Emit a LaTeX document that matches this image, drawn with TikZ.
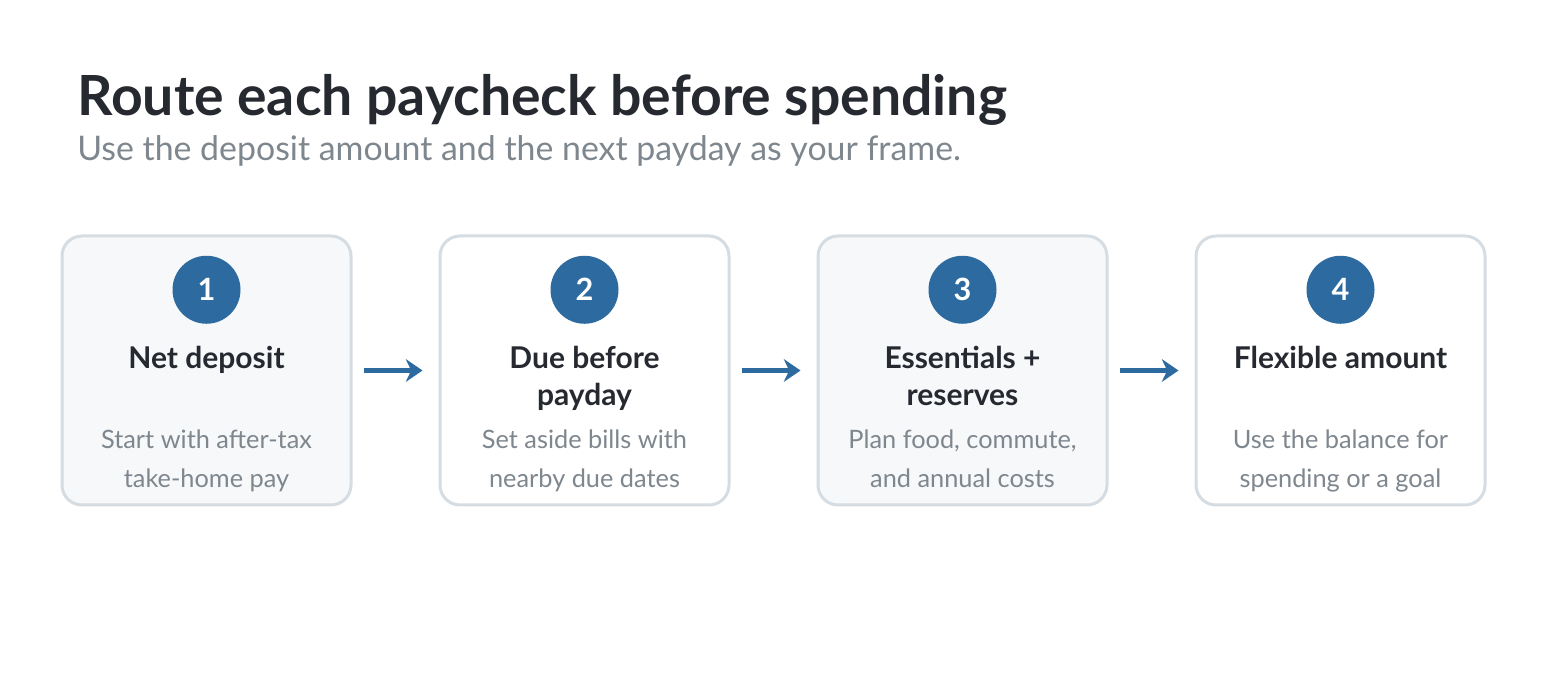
\documentclass[tikz,border=0pt]{standalone}
\usepackage{fontspec}
\setmainfont{Lato}
\usetikzlibrary{arrows, arrows.meta, positioning}
\definecolor{ink}{HTML}{262A30}
\definecolor{muted}{HTML}{7E868E}
\definecolor{stepblue}{HTML}{2C6A9F}
\definecolor{cardline}{HTML}{D5DCE2}
\definecolor{cardfill}{HTML}{F6F8FA}
\tikzset{
  card_n/.style = {draw=cardline, line width=2.25pt, rounded corners=15pt,
    minimum width=216.75pt, minimum height=201.75pt, inner sep=0pt},
  num_n/.style = {circle, fill=stepblue, text=white, minimum size=51pt,
    inner sep=0pt, font=\fontsize{23}{26}\selectfont\bfseries},
  head_n/.style = {align=center, inner sep=0pt, text=ink,
    font=\fontsize{22.5}{27.75}\selectfont\bfseries},
  body_n/.style = {align=center, inner sep=0pt, text=muted,
    font=\fontsize{19}{29.25}\selectfont},
  flow_e/.style = {-{Stealth[length=12.5pt, width=17pt, inset=4pt]},
    draw=stepblue, line width=3.75pt, shorten <=8.25pt, shorten >=12pt}}

\begin{document}
\begin{tikzpicture}[x=0.75pt, y=-0.75pt]
\useasboundingbox (0,0) rectangle (1546,680);

% heading
\node [anchor=base west, inner sep=0pt, text=ink,
  font=\fontsize{41.5}{46}\selectfont\bfseries] (title) at (77,116)
  {Route each paycheck before spending};
\node [anchor=base west, inner sep=0pt, text=muted,
  font=\fontsize{25.4}{30}\selectfont] (subtitle) at (77,161)
  {Use the deposit amount and the next payday as your frame.};

% cards
\node [card_n, fill=cardfill] (c1) at (206.5,370.5) {};
\node [card_n, fill=white]    (c2) at (584.5,370.5) {};
\node [card_n, fill=cardfill] (c3) at (962.5,370.5) {};
\node [card_n, fill=white]    (c4) at (1340.5,370.5) {};

\node [num_n, below=15.75pt of c1.north] (n1) {1};
\node [num_n, below=15.75pt of c2.north] (n2) {2};
\node [num_n, below=15.75pt of c3.north] (n3) {3};
\node [num_n, below=15.75pt of c4.north] (n4) {4};

\node [head_n, below=16.5pt of n1] (h1) {Net deposit};
\node [head_n, below=16.5pt of n2] (h2) {Due before\\payday};
\node [head_n, below=16.5pt of n3] (h3) {Essentials +\\reserves};
\node [head_n, below=16.5pt of n4] (h4) {Flexible amount};

\node [body_n, below=146pt of c1.north] (b1) {Start with after-tax\\take-home pay};
\node [body_n, below=146pt of c2.north] (b2) {Set aside bills with\\nearby due dates};
\node [body_n, below=146pt of c3.north] (b3) {Plan food, commute,\\and annual costs};
\node [body_n, below=146pt of c4.north] (b4) {Use the balance for\\spending or a goal};

% arrows
\draw [flow_e] (c1) -- (c2);
\draw [flow_e] (c2) -- (c3);
\draw [flow_e] (c3) -- (c4);
\end{tikzpicture}
\end{document}
